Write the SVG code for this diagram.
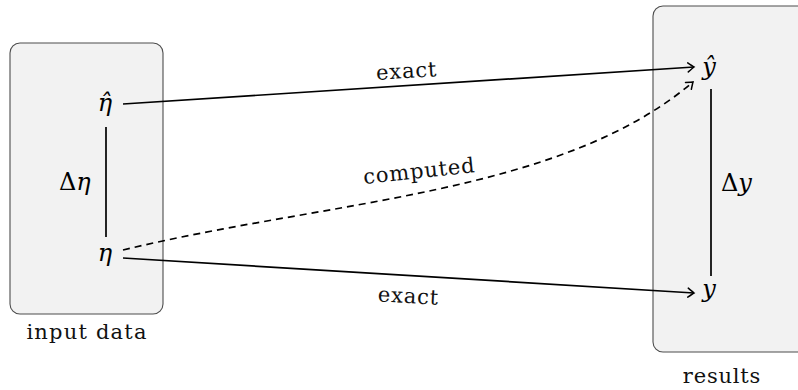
<svg xmlns="http://www.w3.org/2000/svg" width="798" height="390" viewBox="0 0 798 390">
<style>
.box{fill:#f2f2f2;stroke:#4d4d4d;stroke-width:1.1}
.lbl{font-family:"DejaVu Serif","Liberation Serif",serif;font-size:21px;fill:#111}
.math{font-family:"DejaVu Serif","Liberation Serif",serif;font-size:24px;font-style:italic;fill:#000}
.up{font-style:normal}
.conn{stroke:#000;stroke-width:1.7;fill:none}
.dash{stroke-dasharray:7,5}
</style>
<defs>
<marker id="arr" viewBox="-7 -6 9 12" refX="0" refY="0" markerWidth="9" markerHeight="12" markerUnits="userSpaceOnUse" orient="auto">
<path d="M-6,-4.5 Q-1.5,-1 0,0 Q-1.5,1 -6,4.5" fill="none" stroke="#000" stroke-width="1.5" stroke-linecap="round"/>
</marker>
</defs>
<g id="input-box">
<rect class="box" x="10" y="43" width="153" height="271" rx="10"/>
<text class="lbl" x="87" y="339" text-anchor="middle" letter-spacing="1.2">input data</text>
</g>
<g id="results-box">
<rect class="box" x="653" y="6" width="170" height="346" rx="10"/>
<text class="lbl" x="722" y="383" text-anchor="middle" letter-spacing="0.8">results</text>
</g>
<g id="eta-hat">
<text class="math" x="105" y="111" text-anchor="middle">η̂</text>
</g>
<g id="eta">
<text class="math" x="105" y="261" text-anchor="middle">η</text>
</g>
<g id="y-hat">
<text class="math" x="709" y="75" text-anchor="middle">ŷ</text>
</g>
<g id="y">
<text class="math" x="709" y="297" text-anchor="middle">y</text>
</g>
<g id="connectors">
<line class="conn" x1="106" y1="127" x2="106" y2="237"/>
<text class="math" x="59" y="190"><tspan class="up">Δ</tspan>η</text>
<line class="conn" x1="711" y1="89" x2="711" y2="276"/>
<text class="math" x="721" y="191"><tspan class="up">Δ</tspan>y</text>
<line class="conn" x1="123" y1="104" x2="694" y2="67" marker-end="url(#arr)"/>
<text class="lbl" x="407" y="78" text-anchor="middle" transform="rotate(-3.7 407 78)" letter-spacing="0.8">exact</text>
<line class="conn" x1="123" y1="258" x2="694" y2="293" marker-end="url(#arr)"/>
<text class="lbl" x="408" y="303" text-anchor="middle" transform="rotate(3.5 408 303)" letter-spacing="0.8">exact</text>
<path class="conn dash" d="M123,250 C330,200 560,195 693,82" marker-end="url(#arr)"/>
<text class="lbl" x="420" y="178" text-anchor="middle" transform="rotate(-6 420 178)" letter-spacing="0.9">computed</text>
</g>
</svg>
